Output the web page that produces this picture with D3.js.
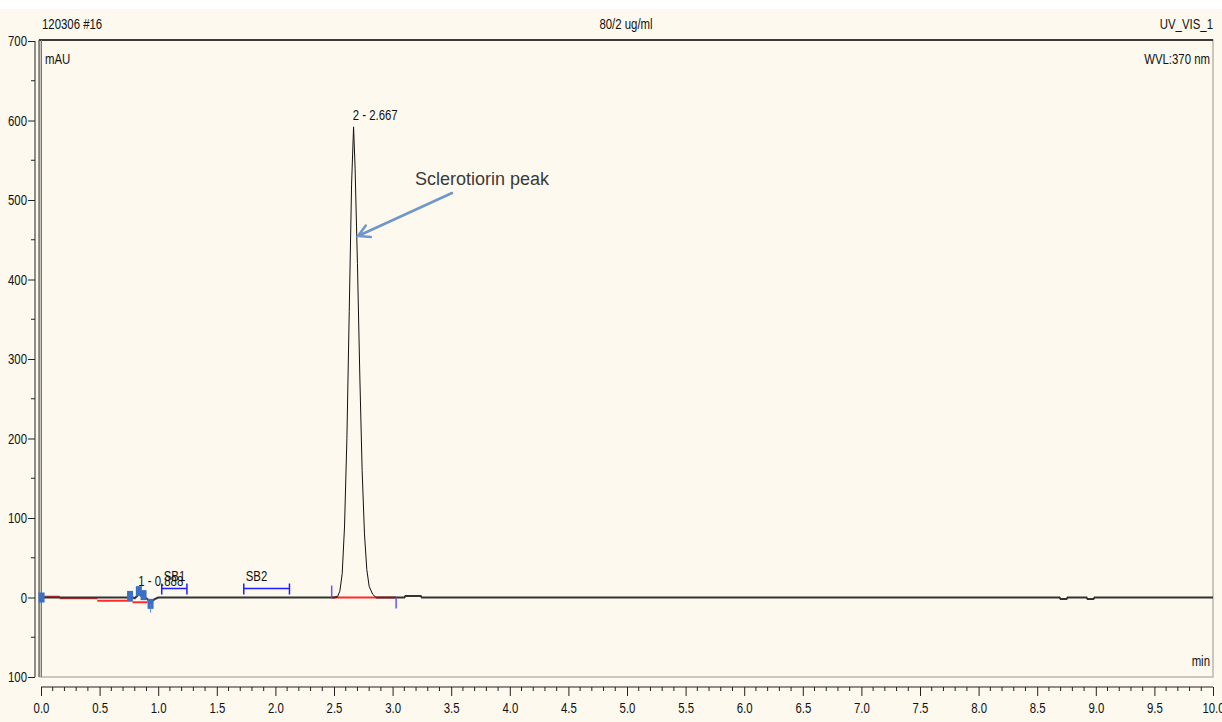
<!DOCTYPE html>
<html>
<head>
<meta charset="utf-8">
<script src="https://cdn.jsdelivr.net/npm/d3@7"></script>
<style>
    body { margin: 0; background: #ffffff; }
    text { font-family: "Liberation Sans", Arial, sans-serif; fill: #111; font-size: 15px; }
    .narrow { transform-box: fill-box; transform: scaleX(0.76); }
    .o-start { transform-origin: left center; }
    .o-mid { transform-origin: center center; }
    .o-end { transform-origin: right center; }
</style>
</head>
<body>
<div id="chart"></div>
<script>
// chromatogram trace (min, mAU)
const traceTime = [0.0, 0.16, 0.48, 0.74, 0.76, 0.8, 0.835, 0.87, 0.9, 0.935, 0.97, 1.0, 1.5, 2.0, 2.5, 2.53, 2.55, 2.57,
    2.59, 2.61, 2.63, 2.65, 2.667, 2.68, 2.7, 2.72, 2.74, 2.76, 2.78, 2.8, 2.83, 2.86, 3.1, 3.11, 3.24, 3.25,
    5.0, 8.0, 8.69, 8.7, 8.75, 8.76, 8.92, 8.93, 8.98, 8.99, 10.0];
const traceSignal = [0, 0, 0, 0, 2, -1, 4, 1, -1, -6, -2, 0, 0, 0, 0, 1, 8, 30,
    90, 200, 360, 520, 592, 540, 420, 280, 160, 80, 35, 14, 4, 0, 0, 2, 2, 0,
    0, 0, 0, -2, -2, 0, 0, -2, -2, 0, 0];

// integration baselines [t0, v0, t1, v1]
const baselines = [[0.0, 1, 0.16, 1], [0.16, -1, 0.48, -1], [0.48, -4, 0.78, -4], [0.78, -6, 0.91, -6], [2.48, 0, 3.03, 0]];

// peak delimiter markers
const markerTime = [0.005, 0.76, 0.835, 0.875, 0.935];
const markerSignal = [0, 2, 8, 3, -8];

// sensitivity bracket ranges
const brackets = [{ name: "SB1", t0: 1.03, t1: 1.245 }, { name: "SB2", t0: 1.73, t1: 2.12 }];

// peak labels
const peakLabels = [{ text: "1 - 0.888", t: 0.83, v: 14 }, { text: "2 - 2.667", t: 2.66, v: 600 }];

const yTicks = [-100, 0, 100, 200, 300, 400, 500, 600, 700];
const yTickLabels = ["100", "0", "100", "200", "300", "400", "500", "600", "700"];
const xTicks = d3.range(0, 10.01, 0.5);

const W = 1222, H = 722;
const plot = { left: 41, right: 1213, top: 41, bottom: 677 };

const svg = d3.select("#chart").append("svg")
    .attr("width", W)
    .attr("height", H);

svg.append("rect")
    .attr("x", 0).attr("y", 9)
    .attr("width", W).attr("height", H - 9)
    .attr("fill", "#fdf9ee");

const x = d3.scaleLinear().domain([0, 10]).range([plot.left, plot.right]);
const y = d3.scaleLinear().domain([-100, 700]).range([plot.bottom, plot.top]);

// plot frame
svg.append("rect")
    .attr("x", 40).attr("y", 40)
    .attr("width", 1173).attr("height", 637)
    .attr("fill", "none")
    .attr("stroke", "#b8b6ae")
    .attr("stroke-width", 1.5);
svg.append("line")
    .attr("x1", 39).attr("x2", 1213).attr("y1", 40).attr("y2", 40)
    .attr("stroke", "#3a3a3a").attr("stroke-width", 2);
svg.append("line")
    .attr("x1", 39).attr("x2", 39).attr("y1", 40).attr("y2", 677)
    .attr("stroke", "#555").attr("stroke-width", 1.2);
svg.append("line")
    .attr("x1", 41.5).attr("x2", 41.5).attr("y1", 40).attr("y2", 677)
    .attr("stroke", "#777").attr("stroke-width", 1);

// y axis
const yAxis = d3.axisLeft(y)
    .tickValues(yTicks)
    .tickSize(7)
    .tickPadding(1)
    .tickFormat((d, i) => yTickLabels[i]);
const gy = svg.append("g")
    .attr("transform", "translate(35,0)")
    .call(yAxis);
gy.select(".domain").attr("d", `M0,${plot.top}V${plot.bottom}`).attr("stroke", "#222");
gy.selectAll("line").attr("stroke", "#222");
gy.selectAll("text").attr("font-size", 15).attr("fill", "#111")
    .style("font-family", "'Liberation Sans', Arial, sans-serif")
    .attr("class", "narrow o-end");
gy.append("g").selectAll("line")
    .data(d3.range(-50, 700, 100))
    .enter().append("line")
    .attr("x1", -4).attr("x2", 0)
    .attr("y1", d => y(d)).attr("y2", d => y(d))
    .attr("stroke", "#222");

// x axis
const xAxis = d3.axisBottom(x)
    .tickValues(xTicks)
    .tickSize(9)
    .tickPadding(6)
    .tickFormat(d3.format(".1f"));
const gx = svg.append("g")
    .attr("transform", "translate(0,687)")
    .call(xAxis);
gx.select(".domain").attr("d", `M${plot.left},0H${plot.right}`).attr("stroke", "#222");
gx.selectAll("line").attr("stroke", "#222");
gx.selectAll("text").attr("font-size", 15).attr("fill", "#111")
    .style("font-family", "'Liberation Sans', Arial, sans-serif")
    .attr("class", "narrow o-mid");
gx.append("g").selectAll("line")
    .data(d3.range(0, 10.001, 0.1).filter(d => Math.abs(d * 2 - Math.round(d * 2)) > 0.01))
    .enter().append("line")
    .attr("x1", d => x(d)).attr("x2", d => x(d))
    .attr("y1", 0).attr("y2", 4)
    .attr("stroke", "#222");

// header texts
svg.append("text").attr("x", 42).attr("y", 29).attr("class", "narrow o-start").text("120306 #16");
svg.append("text").attr("x", 626).attr("y", 29).attr("class", "narrow o-mid").attr("text-anchor", "middle").text("80/2 ug/ml");
svg.append("text").attr("x", 1213).attr("y", 29).attr("class", "narrow o-end").attr("text-anchor", "end").text("UV_VIS_1");
svg.append("text").attr("x", 45).attr("y", 64).attr("class", "narrow o-start").text("mAU");
svg.append("text").attr("x", 1210).attr("y", 64).attr("class", "narrow o-end").attr("text-anchor", "end").text("WVL:370 nm");
svg.append("text").attr("x", 1210).attr("y", 666).attr("class", "narrow o-end").attr("text-anchor", "end").text("min");

// baselines
svg.append("g").selectAll("line")
    .data(baselines)
    .enter().append("line")
    .attr("x1", d => x(d[0])).attr("y1", d => y(d[1]))
    .attr("x2", d => x(d[2])).attr("y2", d => y(d[3]))
    .attr("stroke", "#ff2a2a")
    .attr("stroke-width", 2);

// trace: heavy baseline, thin line over the peak
const idx = d3.range(traceTime.length);
const inPeak = i => traceTime[i] > 2.53 && traceTime[i] < 2.86;
svg.append("path")
    .attr("d", d3.line().defined(i => !inPeak(i)).x(i => x(traceTime[i])).y(i => y(traceSignal[i]))(idx))
    .attr("fill", "none")
    .attr("stroke", "#333")
    .attr("stroke-width", 2);
svg.append("path")
    .attr("d", d3.line().x(i => x(traceTime[i])).y(i => y(traceSignal[i]))(idx.filter(i => traceTime[i] >= 2.53 && traceTime[i] <= 2.86)))
    .attr("fill", "none")
    .attr("stroke", "#111")
    .attr("stroke-width", 1);

// peak delimiter ticks
svg.append("line")
    .attr("x1", x(2.48)).attr("x2", x(2.48))
    .attr("y1", y(0)).attr("y2", y(0) - 12)
    .attr("stroke", "#5a5aff").attr("stroke-width", 1.5);
svg.append("line")
    .attr("x1", x(3.03)).attr("x2", x(3.03))
    .attr("y1", y(0)).attr("y2", y(0) + 11)
    .attr("stroke", "#5a5aff").attr("stroke-width", 1.5);

// blue markers
svg.append("g").selectAll("rect")
    .data(markerTime)
    .enter().append("rect")
    .attr("x", d => x(d) - 3)
    .attr("y", (d, i) => y(markerSignal[i]) - 5)
    .attr("width", 6)
    .attr("height", 10)
    .attr("fill", "#3a6fc8");
svg.append("line")
    .attr("x1", x(0.935)).attr("x2", x(0.935))
    .attr("y1", y(-8)).attr("y2", y(-19))
    .attr("stroke", "#5a7fd8").attr("stroke-width", 1);

// SB brackets
const gb = svg.append("g").selectAll("g")
    .data(brackets)
    .enter().append("g");
gb.append("path")
    .attr("d", d => `M${x(d.t0)},${y(0) - 14}V${y(0) - 3}M${x(d.t0)},${y(0) - 9}H${x(d.t1)}M${x(d.t1)},${y(0) - 14}V${y(0) - 3}`)
    .attr("fill", "none")
    .attr("stroke", "#1e1eff")
    .attr("stroke-width", 1.5);
gb.append("text")
    .attr("x", d => x(d.t0) + 2)
    .attr("y", y(0) - 16)
    .attr("class", "narrow o-start")
    .text(d => d.name);

svg.append("g").selectAll("text")
    .data(peakLabels)
    .enter().append("text")
    .attr("x", d => x(d.t))
    .attr("y", d => y(d.v))
    .attr("class", "narrow o-start")
    .text(d => d.text);

// annotation
svg.append("text")
    .attr("x", 415).attr("y", 185)
    .attr("font-size", 18)
    .style("font-size", "18px")
    .attr("fill", "#3a3a3a")
    .style("fill", "#3a3a3a")
    .text("Sclerotiorin peak");

const ax0 = 452, ay0 = 193, ax1 = 358, ay1 = 236;
const ang = Math.atan2(ay0 - ay1, ax0 - ax1);
const hl = 13, hw = 0.5;
svg.append("path")
    .attr("d", `M${ax0},${ay0}L${ax1},${ay1}` +
        `M${ax1 + hl * Math.cos(ang - hw)},${ay1 + hl * Math.sin(ang - hw)}L${ax1},${ay1}` +
        `L${ax1 + hl * Math.cos(ang + hw)},${ay1 + hl * Math.sin(ang + hw)}`)
    .attr("fill", "none")
    .attr("stroke", "#7097cc")
    .attr("stroke-width", 2.5)
    .attr("stroke-linecap", "round");
</script>
</body>
</html>
